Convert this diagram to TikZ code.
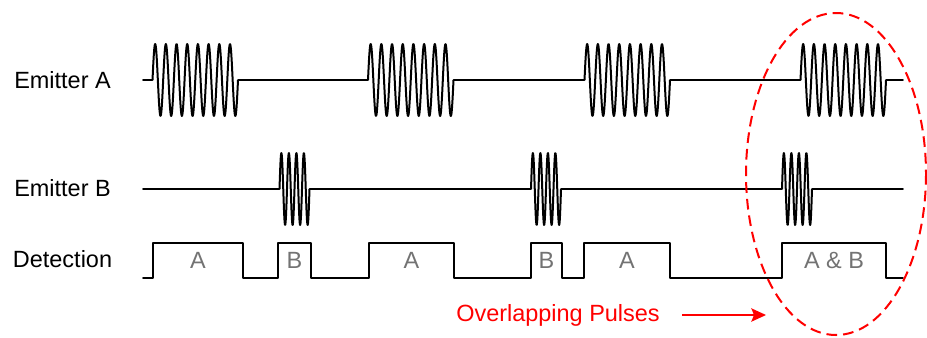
\documentclass[tikz,border=0pt]{standalone}
\usepackage{fontspec}
\setmainfont{Liberation Sans}
\usetikzlibrary{arrows.meta}
\begin{document}
\begin{tikzpicture}[x=0.75pt,y=-0.75pt,
  sig/.style={line width=1.2pt, line join=round, line cap=round},
  osc/.style={line width=1.5pt, line join=round},
  lbl/.style={font=\fontsize{17.6}{20}\selectfont, inner sep=0pt, anchor=base},
  plbl/.style={lbl, text=black!55},
  note/.style={lbl, text=red},
  overlap/.style={draw=red, line width=1.5pt, dash pattern=on 8pt off 4.5pt}]
\useasboundingbox (0,0) rectangle (927,337);

% row labels
\node[lbl] (ea) at (62.5,88) {Emitter A};
\node[lbl] (eb) at (62.5,196.5) {Emitter B};
\node[lbl] (det) at (62.5,267) {Detection};

% Emitter A baseline segments
\foreach \a/\b in {143/152.5, 238/368, 453.5/584.5, 670/800.5, 886/903}
  \draw[sig] (\a,80) -- (\b,80);
% Emitter A bursts
\foreach \s in {152.5,368,584.5,800.5}
  \draw[osc] plot[domain=0:85.5, samples=220, smooth] ({\s+\x},{80-36*sin((\x/10.6875)*360)});

% Emitter B baseline segments
\foreach \a/\b in {143/279.5, 309.5/531, 561/782, 812/903}
  \draw[sig] (\a,189) -- (\b,189);
% Emitter B bursts
\foreach \s in {279.5,531,782}
  \draw[osc] plot[domain=0:30, samples=100, smooth] ({\s+\x},{189-36*sin((\x/7.5)*360)});

% Detection trace
\draw[sig] (143,278) -- (153,278) -- (153,243) -- (243,243) -- (243,278)
  -- (278,278) -- (278,243) -- (311,243) -- (311,278)
  -- (369,278) -- (369,243) -- (454,243) -- (454,278)
  -- (531,278) -- (531,243) -- (562,243) -- (562,278)
  -- (584,278) -- (584,243) -- (670,243) -- (670,278)
  -- (782,278) -- (782,243) -- (886,243) -- (886,278) -- (903,278);

% pulse labels
\node[plbl] (p1) at (198,268) {A};
\node[plbl] (p2) at (294.5,268) {B};
\node[plbl] (p3) at (411.5,268) {A};
\node[plbl] (p4) at (546.5,268) {B};
\node[plbl] (p5) at (627,268) {A};
\node[plbl] (p6) at (834,268) {A \& B};

% overlap ellipse
\draw[overlap] (836,174) ellipse [x radius=90, y radius=161];

% note and arrow
\node[note] (ovl) at (558,321.5) {Overlapping Pulses};
\coordinate (arrS) at (682,315);
\coordinate (arrE) at (766,315);
\draw[red, line width=1.2pt, -{Stealth[length=11pt, width=10pt, inset=2pt]}] (arrS) -- (arrE);
\end{tikzpicture}
\end{document}
